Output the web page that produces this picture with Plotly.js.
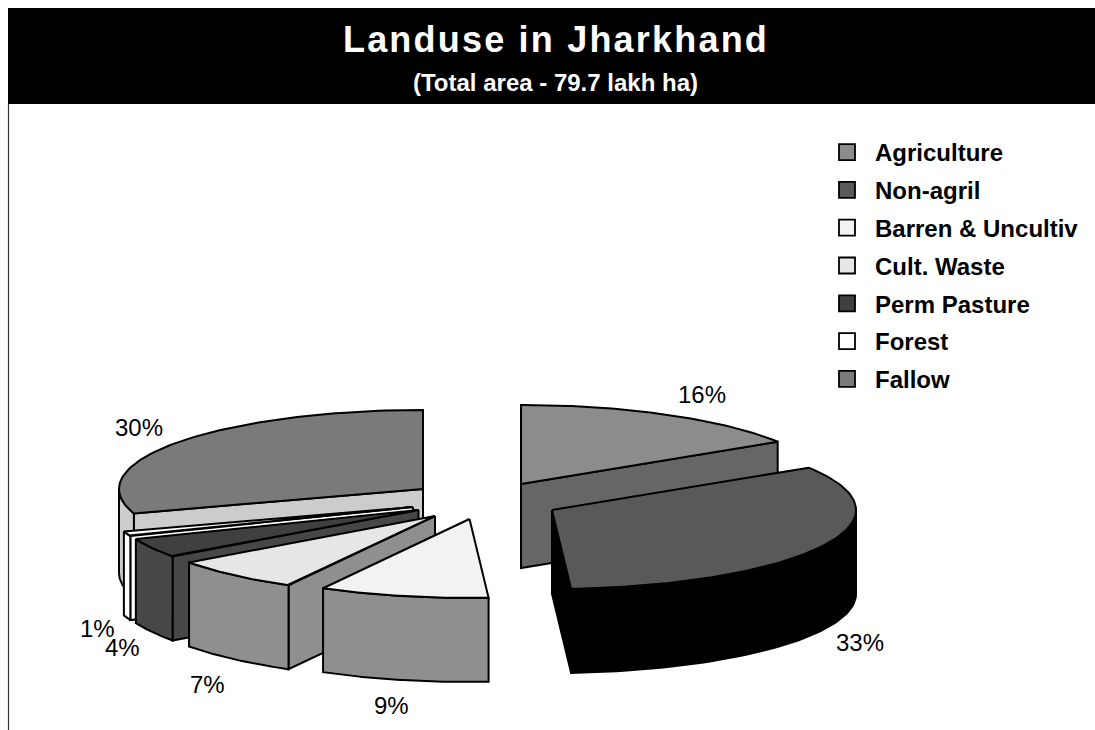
<!DOCTYPE html>
<html>
<head>
<meta charset="utf-8">
<script src="https://cdn.plot.ly/plotly-3.0.1.min.js"></script>
<style>
html,body{margin:0;padding:0;background:#fff;overflow:hidden}
#chart{width:1095px;height:730px}
.gtitle{letter-spacing:2.2px}
</style>
</head>
<body>
<div id="chart"></div>
<script>
// Data
var categories = ["Agriculture","Non-agril","Barren & Uncultiv","Cult. Waste","Perm Pasture","Forest","Fallow"];
var shares = [16,33,9,7,4,1,30];
var topColours = ["#8c8c8c","#595959","#f2f2f2","#e6e6e6","#404040","#ffffff","#7a7a7a"];
var sideColours = ["#666666","#000000","#8f8f8f","#8f8f8f","#474747","#ffffff","#cccccc"];

// Drawing geometry (3D pie projection)
var RX = 304, RY = 79, DEPTH = 84;
var apexX = [521,552,469.5,435,418.5,413,423];
var apexY = [484,510,519,516,510,507,489];
var labelX = [702,860,391,207,122,97,139];
var labelY = [394,642,705,684,647,628,427];
var paintOrder = [6,5,4,3,2,0,1];

var rad = function(d){return d*Math.PI/180;};
var starts = [], acc = 0;
shares.forEach(function(v){starts.push(acc); acc += v*3.6;});

function rimPoint(i,deg,down){
  return [apexX[i]+RX*Math.sin(rad(deg)), apexY[i]-RY*Math.cos(rad(deg))+(down?DEPTH:0)];
}
function face(pts,colour){
  pts = pts.concat([pts[0]]);
  return {type:"scatter",mode:"lines",fill:"toself",fillcolor:colour,
    x:pts.map(function(p){return p[0];}),y:pts.map(function(p){return p[1];}),
    line:{color:"#000000",width:2},showlegend:false,hoverinfo:"skip"};
}
var traces = [];
paintOrder.forEach(function(i){
  var a0 = starts[i], a1 = a0+shares[i]*3.6, apex=[apexX[i],apexY[i]], apexLow=[apexX[i],apexY[i]+DEPTH];
  // radial walls facing the viewer
  if(Math.cos(rad(a0-90))<-1e-6){
    var e0=rimPoint(i,a0,false), e0d=rimPoint(i,a0,true);
    traces.push(face([apex,e0,e0d,apexLow],sideColours[i]));
  }
  if(Math.cos(rad(a1+90))<-1e-6){
    var e1=rimPoint(i,a1,false), e1d=rimPoint(i,a1,true);
    traces.push(face([apex,e1,e1d,apexLow],sideColours[i]));
  }
  // outer wall, visible part of the rim only
  var w0=Math.max(a0,90), w1=Math.min(a1,270);
  if(w1>w0){
    var upper=[],lower=[];
    for(var s=0;s<=60;s++){
      var d=w0+(w1-w0)*s/60;
      upper.push(rimPoint(i,d,false));
      lower.unshift(rimPoint(i,d,true));
    }
    traces.push(face(upper.concat(lower),sideColours[i]));
  }
  // top face
  var top=[apex];
  for(var t=0;t<=90;t++){ top.push(rimPoint(i,a0+(a1-a0)*t/90,false)); }
  traces.push(face(top,topColours[i]));
});

// legend entries
categories.forEach(function(name,i){
  traces.push({type:"scatter",mode:"markers",x:[null],y:[null],name:name,legendgroup:name,
    marker:{symbol:"square",size:19,color:topColours[i],line:{color:"#000000",width:1.8}},hoverinfo:"skip"});
});

// percentage labels
var annotations = shares.map(function(v,i){
  return {x:labelX[i],y:labelY[i],xref:"x",yref:"y",text:v+"%",showarrow:false,
    xanchor:"center",yanchor:"middle",font:{family:"Liberation Sans, Arial, sans-serif",size:24,color:"#000000"}};
});
annotations.push({x:555.5,y:82,xref:"x",yref:"y",text:"<b>(Total area - 79.7 lakh ha)</b>",showarrow:false,
  xanchor:"center",yanchor:"middle",font:{family:"Liberation Sans, Arial, sans-serif",size:24,color:"#ffffff"}});

var layout = {
  width:1095,height:730,margin:{l:0,r:0,t:0,b:0},
  paper_bgcolor:"#ffffff",plot_bgcolor:"#ffffff",hovermode:false,
  title:{text:"<b>Landuse in Jharkhand</b>",x:556/1095,xanchor:"center",y:1-39/730,yanchor:"middle",
    font:{family:"Liberation Sans, Arial, sans-serif",size:36,color:"#ffffff"}},
  xaxis:{range:[0,1095],visible:false,fixedrange:true},
  yaxis:{range:[730,0],visible:false,fixedrange:true},
  legend:{x:819/1095,xanchor:"left",y:1-130/730,yanchor:"top",bgcolor:"rgba(0,0,0,0)",
    tracegroupgap:3.6,itemwidth:46,itemclick:false,itemdoubleclick:false,
    font:{family:"Liberation Sans, Arial, sans-serif",size:24,color:"#000000",weight:700}},
  shapes:[
    {type:"rect",xref:"x",yref:"y",x0:8,x1:1095,y0:8,y1:104,fillcolor:"#000000",line:{width:0},layer:"below"},
    {type:"line",xref:"x",yref:"y",x0:8.5,x1:8.5,y0:104,y1:730,line:{color:"#333333",width:1.2},layer:"below"}
  ],
  annotations:annotations
};
Plotly.newPlot("chart",traces,layout,{displayModeBar:false,staticPlot:true});
</script>
</body>
</html>
